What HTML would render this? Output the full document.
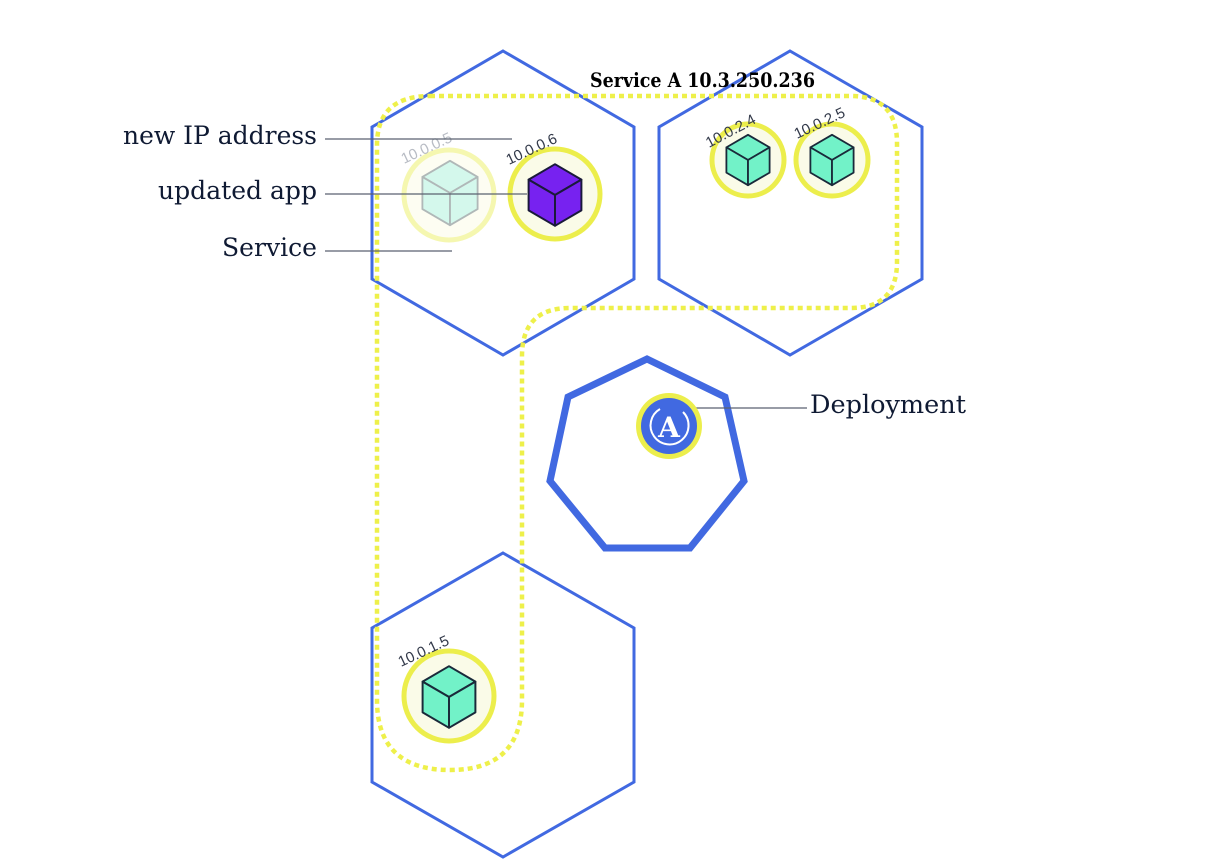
<!DOCTYPE html>
<html><head><meta charset="utf-8"><style>html,body{margin:0;padding:0;background:#fff}svg{display:block}</style></head>
<body>
<svg width="1216" height="866" viewBox="0 0 1216 866" xmlns="http://www.w3.org/2000/svg">
<defs>
<g id="cube">
<polygon points="0,-28 24,-14 0,0 -24,-14" />
<polygon points="-24,-14 0,0 0,28 -24,14" />
<polygon points="24,-14 0,0 0,28 24,14" />
</g>
</defs>
<g fill="none" stroke="#4169e1" stroke-width="3">
<polygon points="503,51 634,127 634,279 503,355 372,279 372,127"/>
<polygon points="790,51 922,127 922,279 790,355 659,279 659,127"/>
<polygon points="503,553 634,628 634,782 503,857 372,782 372,628"/>
<polygon stroke-width="7" points="647,359 725,397 744,481 690,548 605,548 550,481 568,397"/>
</g>
<path d="M430 96 H850 Q897 96 897 143 V262 Q897 308 851 308 H570 Q522 308 522 356 V700 Q522 770 450 770 Q377 770 377 700 V145 Q377 96 430 96 Z" fill="none" stroke="#eef04a" stroke-width="4.5" stroke-dasharray="5 4"/>
<g stroke-width="5">
<circle cx="449" cy="195" r="45" fill="#fdfdf2" stroke="#f5f7b0"/>
<circle cx="555" cy="194" r="45" fill="#fafbe8" stroke="#ecee4c"/>
<circle cx="748" cy="160" r="36" fill="#fafbe8" stroke="#ecee4c"/>
<circle cx="832" cy="160" r="36" fill="#fafbe8" stroke="#ecee4c"/>
<circle cx="449" cy="696" r="45" fill="#fafbe8" stroke="#ecee4c"/>
</g>
<use href="#cube" transform="translate(450,193) scale(1.15)" fill="#d4f8ec" stroke="#b0b8b8" stroke-width="1.6" stroke-linejoin="round"/>
<use href="#cube" transform="translate(555,195) scale(1.1)" fill="#7722f0" stroke="#1a1a3a" stroke-width="1.8" stroke-linejoin="round"/>
<use href="#cube" transform="translate(748,160) scale(0.9)" fill="#72f2c8" stroke="#1a2a3a" stroke-width="2" stroke-linejoin="round"/>
<use href="#cube" transform="translate(832,160) scale(0.9)" fill="#72f2c8" stroke="#1a2a3a" stroke-width="2" stroke-linejoin="round"/>
<use href="#cube" transform="translate(449,697) scale(1.1)" fill="#72f2c8" stroke="#1a2a3a" stroke-width="1.8" stroke-linejoin="round"/>
<g font-family="Liberation Sans, sans-serif" font-size="15">
<text transform="translate(404,164) rotate(-25)" fill="#b8bcc4">10.0.0.5</text>
<text transform="translate(509,165) rotate(-25)" fill="#333a4a">10.0.0.6</text>
<text transform="translate(709,148) rotate(-28)" fill="#333a4a">10.0.2.4</text>
<text transform="translate(797,139) rotate(-25)" fill="#333a4a">10.0.2.5</text>
<text transform="translate(401,667) rotate(-25)" fill="#333a4a">10.0.1.5</text>
</g>
<text x="590" y="87" font-family="DejaVu Serif, serif" font-weight="bold" font-size="20" fill="#000" textLength="225" lengthAdjust="spacingAndGlyphs">Service A 10.3.250.236</text>
<g stroke="#5a6270" stroke-width="1.2">
<line x1="325" y1="139" x2="512" y2="139"/>
<line x1="325" y1="194" x2="527" y2="194"/>
<line x1="325" y1="251" x2="452" y2="251"/>
<line x1="670" y1="408" x2="807" y2="408"/>
</g>
<g font-family="DejaVu Serif, Liberation Serif, serif" font-size="25" fill="#0f1a33">
<text x="317" y="144" text-anchor="end" textLength="194" lengthAdjust="spacingAndGlyphs">new IP address</text>
<text x="317" y="199" text-anchor="end" textLength="159" lengthAdjust="spacingAndGlyphs">updated app</text>
<text x="317" y="256" text-anchor="end" textLength="95" lengthAdjust="spacingAndGlyphs">Service</text>
<text x="810" y="413" textLength="156" lengthAdjust="spacingAndGlyphs">Deployment</text>
</g>
<circle cx="669" cy="426" r="33" fill="#ecee4c"/>
<circle cx="669" cy="426" r="28" fill="#4169e1"/>
<path d="M683 412 A19 19 0 1 1 660 409" fill="none" stroke="#fff" stroke-width="2"/>
<text x="669" y="437" text-anchor="middle" font-family="DejaVu Serif, serif" font-weight="bold" font-size="28" fill="#fff">A</text>
</svg>
</body></html>
